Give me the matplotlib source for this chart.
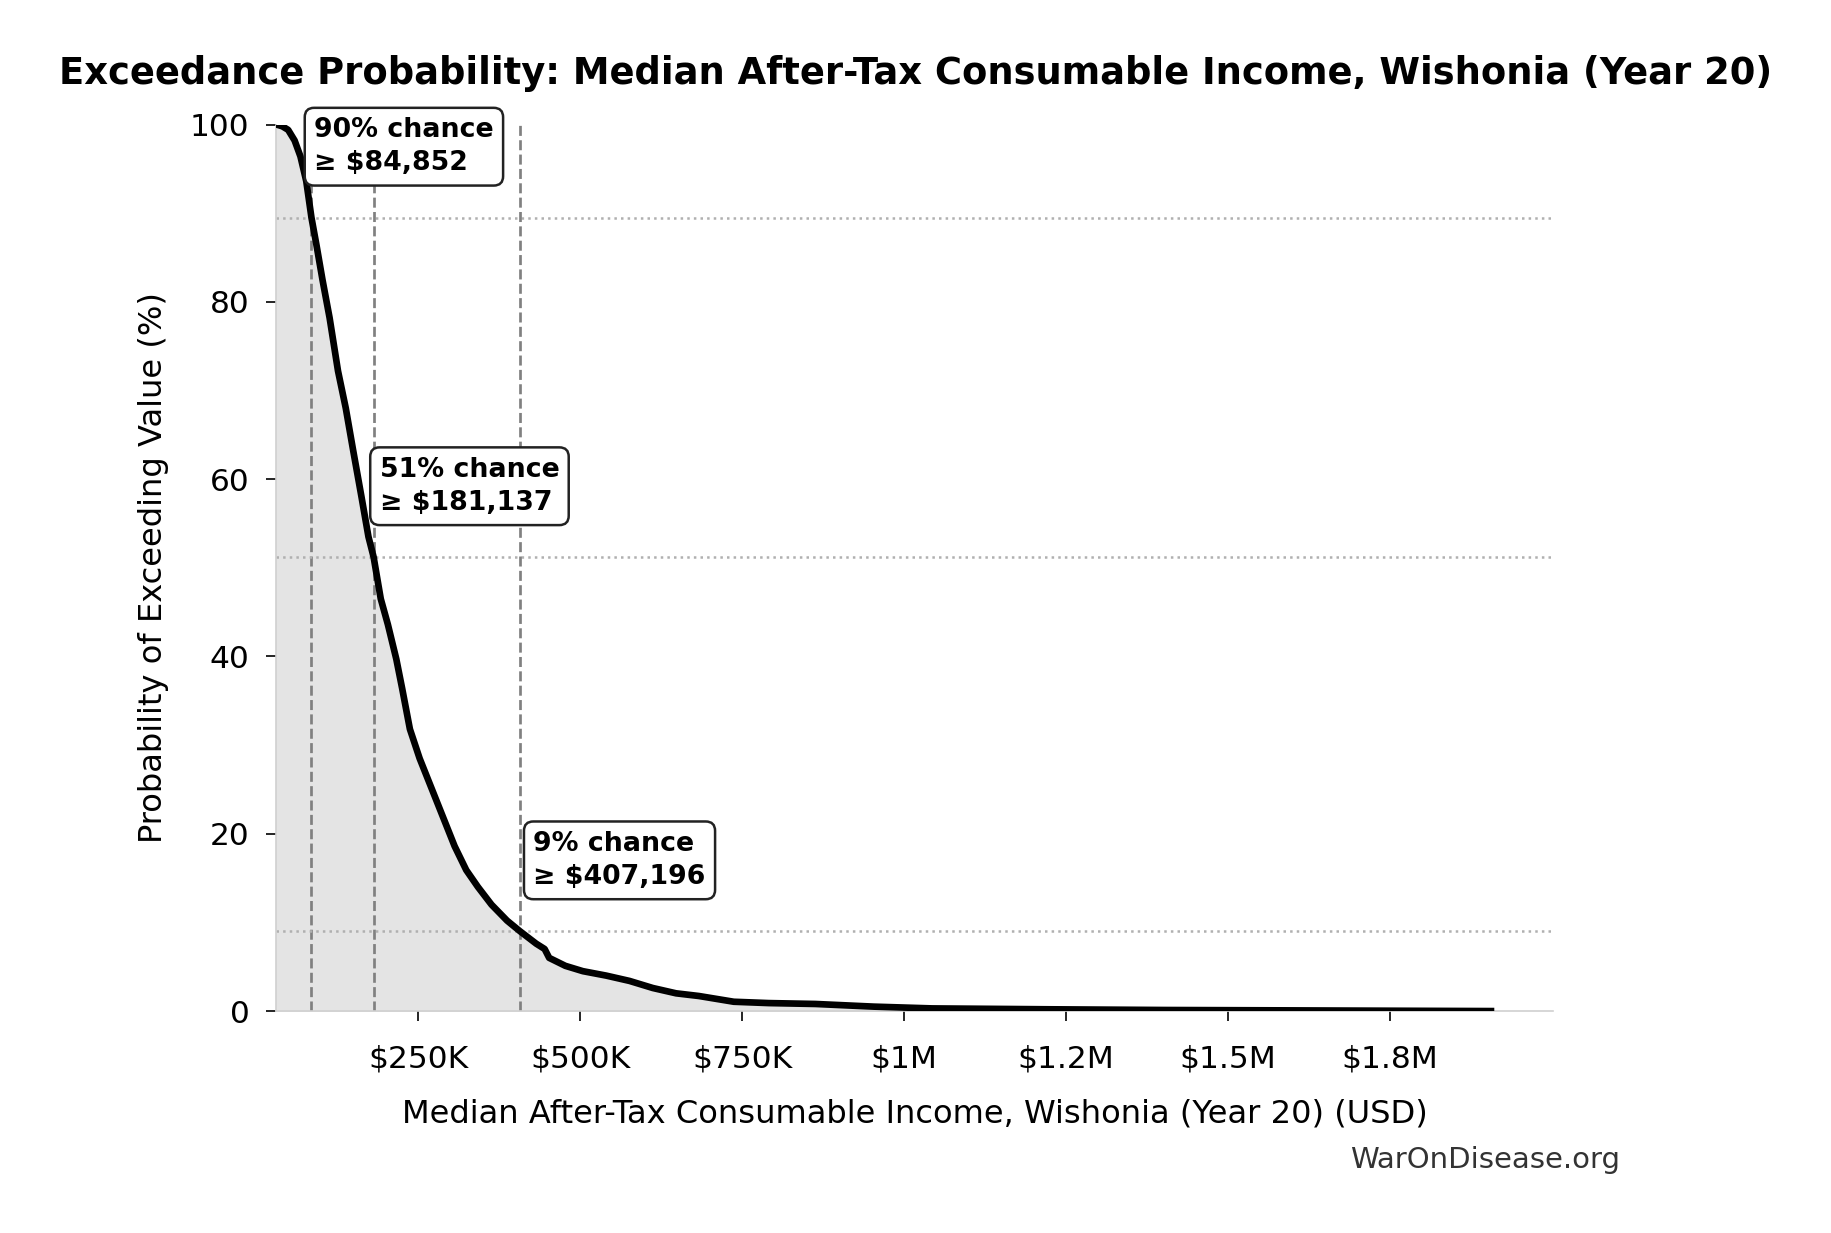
import numpy as np
import matplotlib.pyplot as plt

# exceedance curve (income in thousands USD, probability in %)
income_k = [31, 40, 49, 59, 68, 77, 85, 93, 102, 113, 126, 138, 149, 162, 173,
            181, 192, 203, 216, 225, 237, 252, 270, 288, 306, 324, 342, 363, 387,
            407, 432, 445, 452, 477, 504, 540, 576, 612, 648, 683, 737, 791, 863,
            953, 1043, 1223, 1403, 1583, 1906]
prob_pct = [100, 99.8, 99.4, 98.2, 96.4, 93.6, 89.5, 86.3, 82.5, 78.2, 72.2, 68.0,
            63.4, 58.1, 53.5, 51.2, 46.5, 43.6, 39.7, 36.4, 31.8, 28.5, 25.2, 21.9,
            18.6, 15.9, 14.0, 12.0, 10.2, 9.0, 7.6, 7.0, 6.0, 5.1, 4.5, 4.0, 3.4,
            2.6, 2.0, 1.7, 1.05, 0.9, 0.8, 0.5, 0.3, 0.2, 0.12, 0.08, 0.0]

# marked thresholds
thresh_value = [84852, 181137, 407196]
thresh_prob = [89.5, 51.2, 9.0]
thresh_label = ["90% chance\n≥ $84,852", "51% chance\n≥ $181,137", "9% chance\n≥ $407,196"]

xtick_vals = [250000, 500000, 750000, 1000000, 1250000, 1500000, 1750000]
xtick_labels = ["$250K", "$500K", "$750K", "$1M", "$1.2M", "$1.5M", "$1.8M"]

x = np.array(income_k) * 1000.0
y = np.array(prob_pct)

fig, ax = plt.subplots(figsize=(1831 / 150, 1233 / 150), dpi=150)
fig.subplots_adjust(left=0.151, right=0.848, top=0.899, bottom=0.180)

ax.fill_between(x, y, 0, color="#e4e4e4", zorder=1)
ax.plot(x, y, color="black", lw=3.2, zorder=4)

for v, p, lab in zip(thresh_value, thresh_prob, thresh_label):
    ax.axvline(v, color="#808080", ls="--", lw=1.3, zorder=2)
    ax.axhline(p, color="#b0b0b0", ls=":", lw=1.2, zorder=2)
    ax.text(v * 1.05, p + 8, lab, ha="left", va="center", fontsize=12.85,
            fontweight="bold", zorder=5, linespacing=1.35,
            bbox=dict(boxstyle="round,pad=0.35", fc="white", ec="#222222", lw=1.2))

ax.set_xlim(x[0], x[-1] * 1.05)
ax.set_ylim(0, 100)
ax.set_xticks(xtick_vals)
ax.set_xticklabels(xtick_labels)
ax.set_yticks([0, 20, 40, 60, 80, 100])
ax.tick_params(axis="x", labelsize=15, pad=11, length=5)
ax.tick_params(axis="y", labelsize=15, pad=8, length=5)

for s in ["top", "right"]:
    ax.spines[s].set_visible(False)
for s in ["left", "bottom"]:
    ax.spines[s].set_color("#d0d0d0")

ax.set_xlabel("Median After-Tax Consumable Income, Wishonia (Year 20) (USD)",
              fontsize=15.4, labelpad=12)
ax.set_ylabel("Probability of Exceeding Value (%)", fontsize=15.4, labelpad=10)

fig.suptitle("Exceedance Probability: Median After-Tax Consumable Income, Wishonia (Year 20)",
             fontsize=17.7, fontweight="bold", y=0.940, va="center")
fig.text(0.885, 0.059, "WarOnDisease.org", ha="right", va="center",
         fontsize=14, color="#333333")

fig.savefig("out.png", dpi=150)
